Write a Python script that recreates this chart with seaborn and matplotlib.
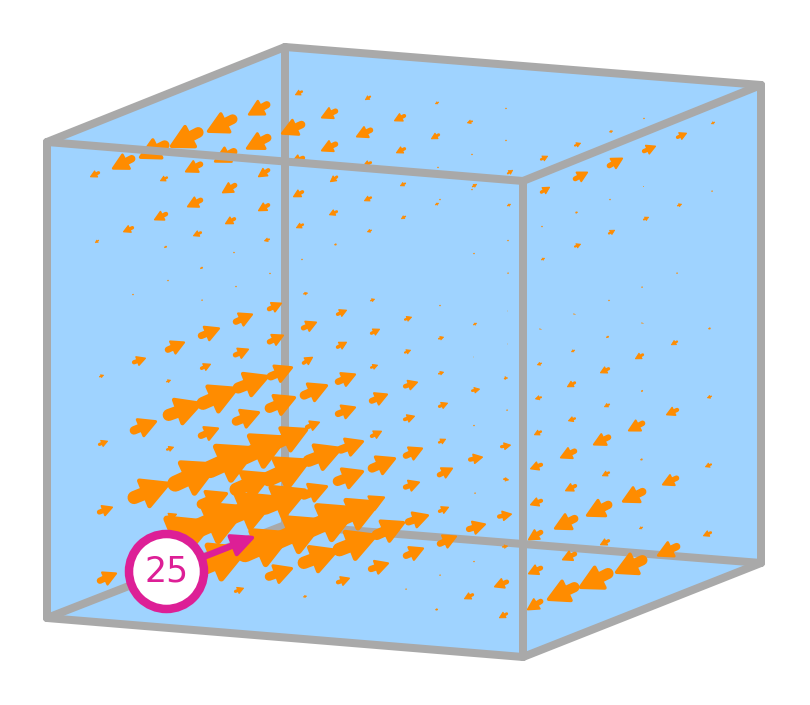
import matplotlib
matplotlib.use('Agg')
import matplotlib.pyplot as plt
import numpy as np
import pandas as pd
import seaborn as sns

# 立方体の頂点
corner_names = ['ftl', 'ftr', 'fbl', 'fbr', 'btl', 'btr', 'bbl', 'bbr']
corner_x = [47, 523, 47, 523, 285, 761, 285, 761]
corner_y = [142, 181, 618, 657, 47, 85, 525, 563]

back_edges = [('btl', 'btr'), ('btl', 'bbl'), ('bbl', 'bbr'), ('fbl', 'bbl')]
front_edges = [('ftl', 'ftr'), ('ftl', 'fbl'), ('ftr', 'fbr'), ('fbl', 'fbr'),
               ('ftl', 'btl'), ('ftr', 'btr'), ('btr', 'bbr'), ('fbr', 'bbr')]
silhouette = ['ftl', 'btl', 'btr', 'bbr', 'fbr', 'fbl']

# ベクトル (始点x, 始点y, 終点x, 終点y)
top_left = [
    (303, 91, 295, 95), (371, 96, 365, 100), (270, 103, 248, 115), (338, 110, 321, 118),
    (406, 115, 394, 121), (237, 117, 207, 132), (305, 123, 281, 134), (373, 129, 356, 137),
    (203, 130, 170, 147), (271, 136, 246, 149), (338, 143, 321, 151), (406, 148, 396, 153),
    (169, 143, 139, 158), (237, 150, 214, 162), (305, 157, 291, 163), (135, 157, 112, 169),
    (203, 163, 185, 172), (270, 169, 258, 177), (338, 176, 330, 182), (406, 183, 400, 186),
    (372, 162, 363, 166), (100, 172, 90, 177), (168, 177, 160, 181), (237, 184, 222, 193),
    (304, 191, 293, 197), (372, 197, 364, 201), (203, 199, 187, 207), (270, 204, 258, 211),
    (338, 211, 329, 215), (406, 216, 401, 219), (168, 213, 154, 220), (236, 218, 225, 224),
    (304, 224, 296, 228), (372, 230, 367, 232), (134, 227, 123, 232), (202, 232, 193, 236),
    (270, 239, 264, 241), (99, 240, 95, 243), (167, 246, 164, 248), (337, 244, 334, 245),
    (235, 253, 233, 252), (303, 259, 301, 260), (203, 267, 200, 269), (271, 273, 269, 274),
]
top_right = [
    (439, 102, 435, 104), (507, 108, 505, 109), (473, 121, 467, 123), (440, 134, 431, 139),
    (507, 140, 505, 141), (473, 154, 471, 155), (439, 167, 437, 168), (645, 118, 643, 119),
    (715, 122, 711, 124), (613, 131, 609, 132), (676, 138, 687, 133), (642, 152, 656, 146),
    (574, 146, 581, 143), (607, 167, 623, 158), (540, 160, 548, 156), (573, 180, 588, 172),
    (507, 174, 513, 170), (540, 193, 550, 187), (472, 187, 477, 184), (471, 190, 473, 189),
    (439, 200, 441, 199), (435, 205, 439, 203), (507, 206, 511, 204), (643, 187, 644, 186),
    (711, 191, 713, 191), (609, 200, 611, 199), (677, 206, 682, 204), (575, 213, 578, 212),
    (643, 220, 649, 217), (541, 227, 543, 226), (608, 234, 615, 230), (574, 247, 581, 244),
    (541, 260, 545, 258), (507, 241, 509, 240), (473, 254, 475, 253), (507, 273, 509, 273),
    (676, 273, 678, 273), (641, 287, 643, 287),
]
middle_left = [
    (132, 295, 134, 294), (167, 281, 169, 280), (235, 287, 237, 286), (201, 300, 203, 300),
    (99, 377, 104, 375), (132, 363, 146, 358), (165, 351, 185, 342), (198, 337, 220, 328),
    (233, 323, 253, 314), (267, 310, 282, 303), (303, 294, 308, 293), (336, 315, 347, 310),
    (404, 320, 412, 317), (370, 301, 375, 299), (301, 329, 317, 322), (370, 334, 380, 329),
    (336, 348, 347, 342), (404, 353, 411, 350), (267, 343, 284, 335), (233, 356, 249, 349),
    (200, 369, 211, 364), (166, 382, 171, 380), (302, 364, 313, 357), (370, 368, 378, 365),
    (163, 417, 202, 403), (197, 406, 238, 388), (233, 390, 269, 376), (267, 378, 293, 367),
    (130, 432, 157, 421), (198, 437, 219, 428), (232, 423, 260, 412), (265, 410, 296, 397),
    (300, 397, 328, 385), (335, 383, 356, 374), (403, 387, 418, 382), (369, 402, 388, 394),
    (335, 415, 356, 407), (403, 420, 415, 416), (370, 437, 382, 431), (98, 445, 108, 441),
    (166, 450, 174, 447),
]
dense_rows = [
    (128, 500, 170, 483), (168, 487, 218, 464), (202, 473, 257, 448), (237, 460, 287, 437),
    (271, 446, 308, 429), (305, 428, 320, 422),
    (230, 492, 272, 474), (262, 482, 310, 460), (303, 463, 342, 448), (337, 451, 364, 441),
    (150, 548, 213, 522), (187, 533, 247, 507), (222, 520, 277, 497), (258, 510, 307, 490),
    (300, 497, 328, 486),
    (193, 571, 248, 548), (237, 557, 292, 533), (270, 544, 325, 520), (303, 532, 358, 508),
    (334, 522, 380, 502), (363, 507, 385, 497),
    (298, 565, 338, 550), (333, 552, 377, 535), (372, 537, 405, 522), (405, 523, 429, 515),
]
lower_left = [
    (403, 457, 423, 448), (368, 470, 396, 458), (333, 483, 364, 471), (403, 488, 420, 482),
    (197, 506, 228, 493), (265, 578, 293, 568), (336, 583, 350, 578), (368, 570, 389, 563),
    (403, 557, 424, 548), (234, 592, 244, 588), (303, 597, 307, 596), (405, 589, 407, 589),
    (97, 582, 117, 573), (97, 513, 113, 507), (165, 519, 177, 514), (436, 610, 438, 609),
]
lower_middle = [
    (439, 306, 441, 305), (473, 325, 477, 323), (507, 311, 508, 311), (438, 339, 444, 337),
    (438, 374, 444, 372), (507, 344, 508, 344), (473, 357, 474, 357), (503, 378, 508, 378),
    (471, 391, 480, 389), (438, 407, 448, 403), (506, 410, 508, 410), (473, 426, 475, 425),
    (438, 443, 446, 439), (500, 447, 511, 445), (468, 460, 483, 457), (437, 476, 453, 468),
    (503, 479, 509, 480), (504, 478, 506, 479), (474, 493, 476, 493), (438, 512, 449, 507),
    (497, 517, 512, 514), (466, 530, 486, 524), (437, 545, 457, 536), (502, 547, 508, 546),
    (473, 562, 475, 561), (439, 575, 441, 575), (509, 581, 494, 587), (474, 594, 464, 599),
    (438, 609, 435, 610), (508, 613, 499, 618),
]
right_face = [
    (610, 300, 608, 301), (575, 314, 573, 314), (541, 329, 539, 329), (643, 323, 641, 323),
    (711, 328, 708, 329), (609, 336, 606, 338), (678, 341, 671, 345), (575, 350, 571, 352),
    (644, 354, 635, 359), (542, 363, 537, 365), (610, 368, 600, 373), (576, 382, 567, 387),
    (643, 390, 641, 392), (712, 396, 707, 398), (542, 397, 535, 399), (610, 404, 604, 407),
    (679, 409, 666, 415), (576, 418, 568, 421), (645, 422, 628, 431), (542, 431, 534, 435),
    (611, 436, 593, 445), (577, 450, 560, 458), (643, 459, 640, 460), (712, 464, 705, 467),
    (543, 464, 530, 469), (610, 472, 602, 476), (679, 477, 662, 485), (577, 485, 565, 491),
    (646, 490, 622, 502), (543, 500, 530, 505), (612, 503, 586, 516), (578, 517, 554, 529),
    (543, 531, 528, 540), (643, 527, 639, 529), (712, 532, 703, 536), (610, 540, 600, 545),
    (680, 545, 657, 556), (577, 553, 562, 560), (647, 558, 615, 573), (543, 567, 528, 574),
    (613, 571, 579, 588), (579, 585, 547, 600), (543, 600, 527, 610),
]

callout_label = '25'
callout_center = (166.5, 571.5)
callout_target = (254, 537)

BLUE = '#9FD3FF'
GRAY = '#A9A9A9'
ORANGE = '#FF8C00'
PINK = '#DD1F96'
PX = 0.72  # 1pxあたりのpt


def draw_edges(ax, edges, points, zorder):
    """
    立方体の辺をseabornで描画
    """
    rows = []
    for i, (a, b) in enumerate(edges):
        rows.append({'edge': i, 'step': 0, 'x': points[a][0], 'y': points[a][1]})
        rows.append({'edge': i, 'step': 1, 'x': points[b][0], 'y': points[b][1]})
    sns.lineplot(data=pd.DataFrame(rows), x='x', y='y', units='edge', estimator=None, sort=False,
                 color=GRAY, linewidth=8*PX, solid_capstyle='round', legend=False, ax=ax, zorder=zorder)


def draw_arrow(ax, x0, y0, x1, y1, color=ORANGE, head=0.66, half=0.35, shaft=0.29, r=None, zorder=3):
    """
    先端が丸い矢印を1本描画
    """
    tail = np.array([x0, y0], dtype=float)
    tip = np.array([x1, y1], dtype=float)
    length = np.hypot(*(tip - tail))
    u = (tip - tail) / length
    n = np.array([-u[1], u[0]])
    if r is None:
        r = 0.05 * length
    base = tip - u * head * length
    inner_tip = tip - u * r
    inner_base = base + u * r
    w = half * length - r
    poly = np.array([inner_tip, inner_base + n * w, inner_base - n * w])
    ax.fill(poly[:, 0], poly[:, 1], color=color, linewidth=2*r*PX, joinstyle='round', zorder=zorder)
    shaft_w = shaft * length
    start = tail + u * shaft_w / 2
    ax.plot([start[0], base[0]], [start[1], base[1]], color=color, linewidth=shaft_w*PX,
            solid_capstyle='round', zorder=zorder)


sns.set_theme(style='white')
plt.rcParams['font.family'] = ['DejaVu Sans']

fig, ax = plt.subplots(figsize=(8.1, 7.05), dpi=100)
fig.subplots_adjust(left=0, right=1, top=1, bottom=0)

points = {name: (x, y) for name, x, y in zip(corner_names, corner_x, corner_y)}
ax.fill([points[p][0] for p in silhouette], [points[p][1] for p in silhouette],
        color=BLUE, linewidth=0, zorder=1)
draw_edges(ax, back_edges, points, 2)

for group in [top_left, top_right, middle_left, dense_rows, lower_left, lower_middle, right_face]:
    for x0, y0, x1, y1 in group:
        draw_arrow(ax, x0, y0, x1, y1)

draw_edges(ax, front_edges, points, 4)

# 吹き出し
draw_arrow(ax, callout_center[0], callout_center[1], callout_target[0], callout_target[1],
           color=PINK, head=0.26, half=0.125, shaft=0.07, r=2, zorder=5)
ax.add_patch(plt.Circle(callout_center, 37.5, facecolor='white', edgecolor=PINK, linewidth=8.5*PX, zorder=6))
ax.text(callout_center[0], callout_center[1] + 0.5, callout_label, color=PINK, fontsize=25,
        fontweight='normal', ha='center', va='center', zorder=7)

ax.set_xlim(0, 810)
ax.set_ylim(705, 0)
ax.axis('off')
fig.savefig('out.png', dpi=100)
